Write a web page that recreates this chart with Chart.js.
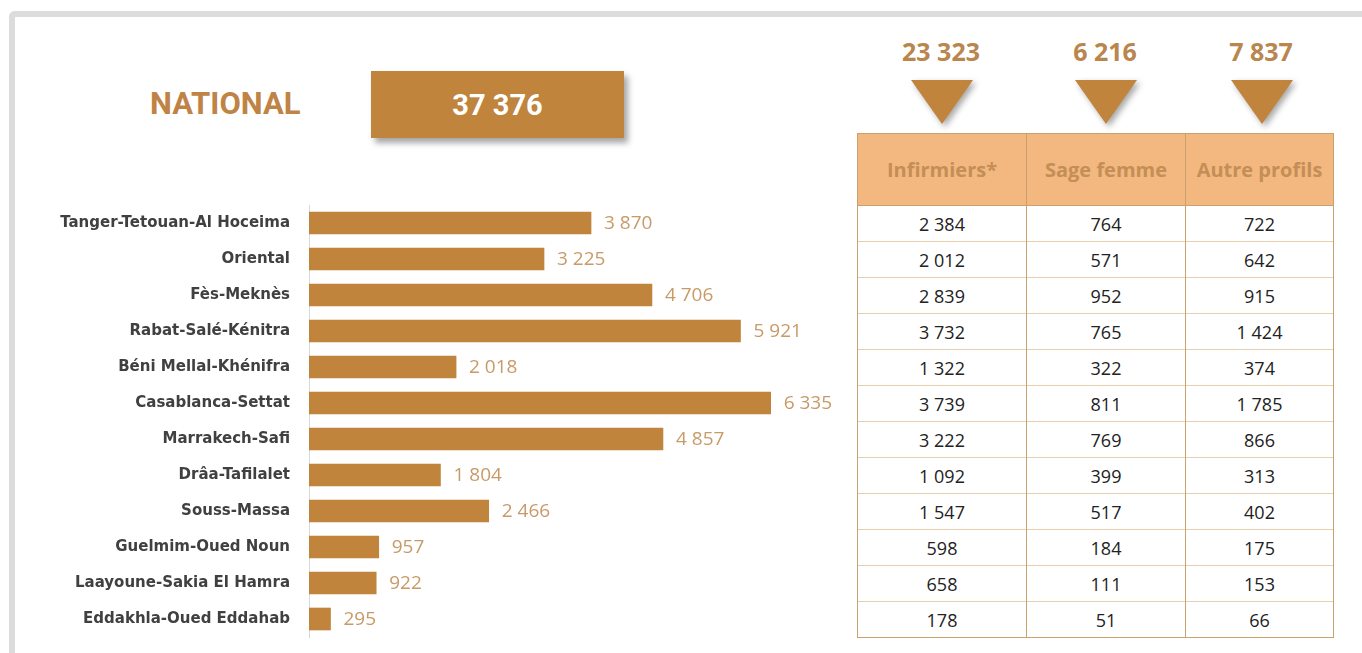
<!DOCTYPE html>
<html>
<head>
<meta charset="utf-8">
<script src="https://cdn.jsdelivr.net/npm/chart.js@4/dist/chart.umd.min.js"></script>
<style>
  html, body { margin:0; padding:0; background:#fff; width:1362px; height:653px; overflow:hidden; position:relative; }
  #frame { position:absolute; left:9px; top:11px; width:1400px; height:700px; border-left:6px solid #dcdcdc; border-top:6px solid #dcdcdc; border-top-left-radius:6px; box-sizing:border-box; }
  #national { position:absolute; left:150px; top:88px; font-family:Roboto, "Liberation Sans", sans-serif; font-weight:700; font-size:31px; line-height:1; color:#BF8445; }
  #box { position:absolute; left:371px; top:71px; width:253px; height:67px; background:#C0843C; box-shadow:4px 5px 6px rgba(0,0,0,0.35); color:#fff; font-family:Roboto, "Liberation Sans", sans-serif; font-weight:700; font-size:29px; display:flex; align-items:center; justify-content:center; }
  .total { position:absolute; top:39px; width:160px; margin-left:-80px; text-align:center; font-family:"Open Sans", sans-serif; font-weight:700; font-size:25px; line-height:1; color:#B8864E; }
  .tri { position:absolute; top:80px; width:0; height:0; margin-left:-31px; border-left:31px solid transparent; border-right:31px solid transparent; border-top:44px solid #C0843C; filter:drop-shadow(3px 3px 3px rgba(0,0,0,0.35)); }
  #tbl { position:absolute; left:857px; top:133px; border-collapse:collapse; font-family:"Open Sans", sans-serif; }
  #tbl th { background:#F2B880; color:#C48E56; font-weight:700; font-size:20px; height:72px; padding:0; border:1px solid #C9A06E; box-sizing:border-box; white-space:nowrap; }
  #tbl td { height:36px; padding:0; text-align:center; font-size:18px; color:#222; border-left:1px solid #C9A06E; border-right:1px solid #C9A06E; border-top:1px solid #E8CFB0; box-sizing:border-box; }
  #tbl tr:last-child td { border-bottom:1px solid #C9A06E; }
  #chartWrap { position:absolute; left:40px; top:195px; width:801px; height:450px; }
</style>
</head>
<body>
<div id="frame"></div>
<div id="national">NATIONAL</div>
<div id="box"><span id="natVal"></span></div>
<div id="tops"></div>
<table id="tbl"><thead><tr id="hdr"></tr></thead><tbody id="tbody"></tbody></table>
<div id="chartWrap"><canvas id="c" width="801" height="450"></canvas></div>
<script>
const regions = ["Tanger-Tetouan-Al Hoceima","Oriental","Fès-Meknès","Rabat-Salé-Kénitra","Béni Mellal-Khénifra","Casablanca-Settat","Marrakech-Safi","Drâa-Tafilalet","Souss-Massa","Guelmim-Oued Noun","Laayoune-Sakia El Hamra","Eddakhla-Oued Eddahab"];
const totals = [3870,3225,4706,5921,2018,6335,4857,1804,2466,957,922,295];
const infirmiers = [2384,2012,2839,3732,1322,3739,3222,1092,1547,598,658,178];
const sageFemme = [764,571,952,765,322,811,769,399,517,184,111,51];
const autreProfils = [722,642,915,1424,374,1785,866,313,402,175,153,66];
const columnNames = ["Infirmiers*","Sage femme","Autre profils"];
const columnTotals = [23323,6216,7837];
const nationalTotal = 37376;

const fmt = v => String(v).replace(/\B(?=(\d{3})+(?!\d))/g, ' ');

document.getElementById('natVal').textContent = fmt(nationalTotal);

const colWidths = [169,159,148];
const colCenters = [941, 1105, 1261];
const hdr = document.getElementById('hdr');
columnNames.forEach((n,i)=>{ const th=document.createElement('th'); th.textContent=n; th.style.width=colWidths[i]+'px'; hdr.appendChild(th); });
const tb = document.getElementById('tbody');
const cols = [infirmiers, sageFemme, autreProfils];
regions.forEach((r,ri)=>{
  const tr=document.createElement('tr');
  cols.forEach(c=>{ const td=document.createElement('td'); td.textContent=fmt(c[ri]); tr.appendChild(td); });
  tb.appendChild(tr);
});
const tops = document.getElementById('tops');
columnTotals.forEach((t,i)=>{
  const d=document.createElement('div'); d.className='total'; d.style.left=colCenters[i]+'px'; d.textContent=fmt(t); tops.appendChild(d);
  const tri=document.createElement('div'); tri.className='tri'; tri.style.left=(colCenters[i]+1)+'px'; tops.appendChild(tri);
});

const valueLabels = {
  id:'valueLabels',
  afterDatasetsDraw(chart){
    const ctx=chart.ctx; const meta=chart.getDatasetMeta(0);
    ctx.save();
    ctx.font='19px "Open Sans", sans-serif';
    ctx.fillStyle='#C89A68';
    ctx.textBaseline='middle'; ctx.textAlign='left';
    meta.data.forEach((el,i)=>{ ctx.fillText(fmt(chart.data.datasets[0].data[i]), el.x+13, el.y+1); });
    ctx.restore();
  }
};

new Chart(document.getElementById('c'), {
  type:'bar',
  data:{ labels:regions, datasets:[{ data:totals, backgroundColor:'#C0843C', borderWidth:0, barThickness:22 }] },
  options:{
    indexAxis:'y', responsive:false, animation:false,
    layout:{ padding:{ top:10, bottom:8, left:0, right:0 } },
    plugins:{ legend:{display:false}, tooltip:{enabled:false} },
    scales:{
      x:{ display:false, min:0, max:7300 },
      y:{
        grid:{ display:false, drawTicks:false },
        border:{ display:true, color:'#d9d9d9', width:1 },
        ticks:{ padding:19, color:'#404040', font:{ family:'"DejaVu Sans", sans-serif', weight:'bold', size:15 } },
        afterFit(scale){ scale.width = 269; scale.paddingTop = 0; scale.paddingBottom = 0; }
      }
    }
  },
  plugins:[valueLabels]
});
</script>
</body>
</html>
